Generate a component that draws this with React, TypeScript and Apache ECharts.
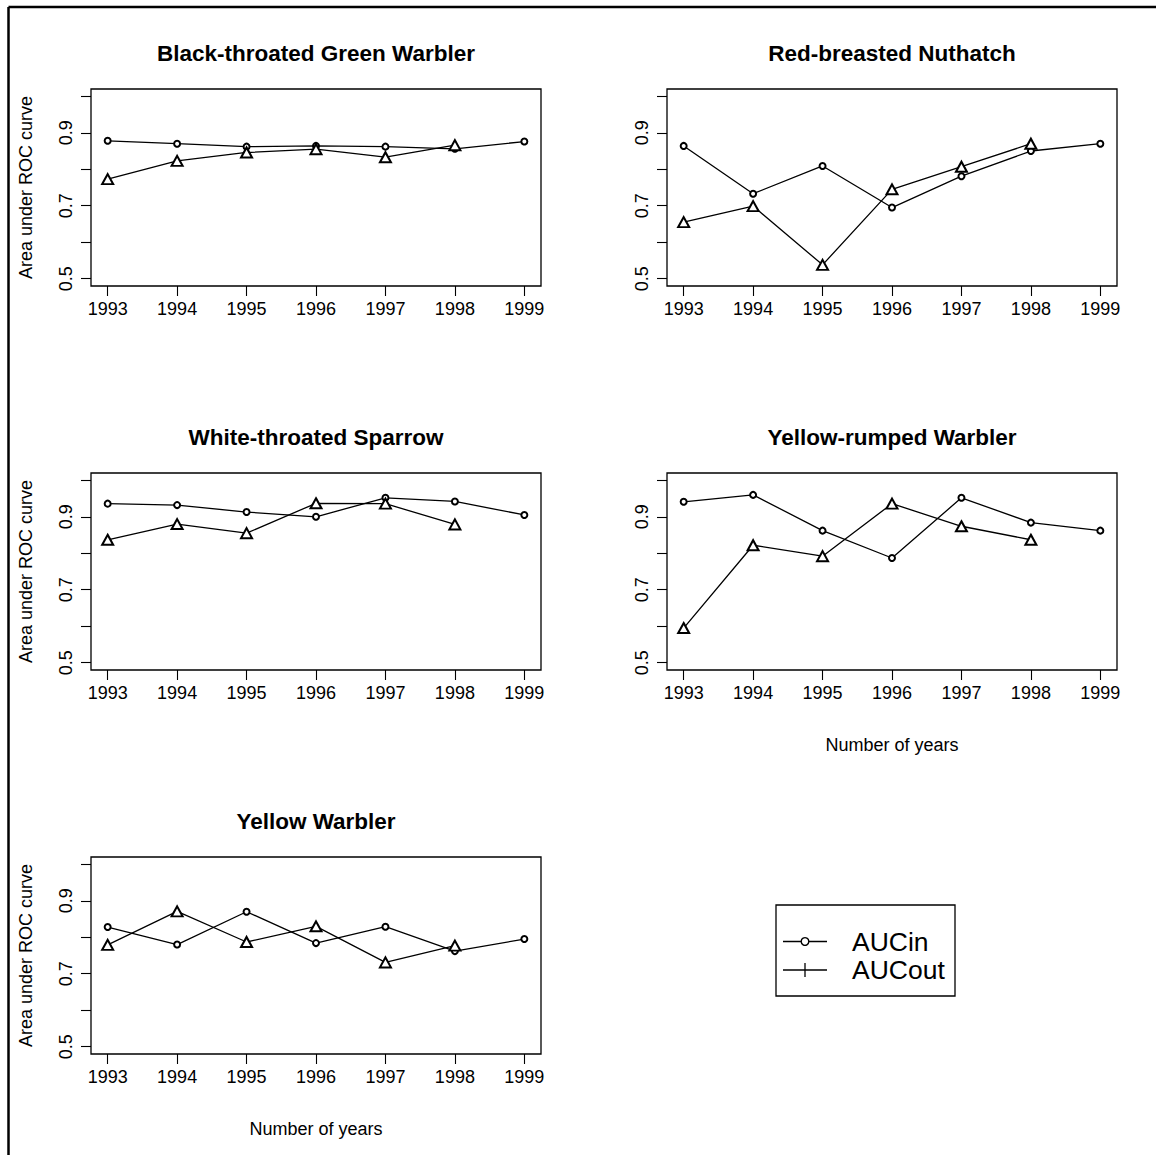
import React, { useEffect, useRef } from "react";
import * as echarts from "echarts";

// ---------- data ----------
const years = [1993, 1994, 1995, 1996, 1997, 1998, 1999];
const yTicks = [0.5, 0.6, 0.7, 0.8, 0.9, 1.0];
const yTickLabels = [0.5, 0.7, 0.9];

const panelTitles = [
  "Black-throated Green Warbler",
  "Red-breasted Nuthatch",
  "White-throated Sparrow",
  "Yellow-rumped Warbler",
  "Yellow Warbler",
];

const aucInBTGW = [0.878, 0.870, 0.862, 0.864, 0.862, 0.856, 0.876];
const aucOutBTGW = [0.773, 0.823, 0.846, 0.855, 0.833, 0.866];

const aucInRBNU = [0.864, 0.733, 0.809, 0.695, 0.781, 0.850, 0.870];
const aucOutRBNU = [0.655, 0.699, 0.538, 0.745, 0.807, 0.870];

const aucInWTSP = [0.936, 0.932, 0.913, 0.900, 0.952, 0.942, 0.905];
const aucOutWTSP = [0.837, 0.880, 0.855, 0.937, 0.936, 0.879];

const aucInYRWA = [0.941, 0.960, 0.862, 0.787, 0.952, 0.884, 0.862];
const aucOutYRWA = [0.595, 0.822, 0.792, 0.936, 0.874, 0.837];

const aucInYWAR = [0.828, 0.780, 0.870, 0.784, 0.829, 0.762, 0.795];
const aucOutYWAR = [0.779, 0.871, 0.787, 0.830, 0.731, 0.777];

const aucInAll = [aucInBTGW, aucInRBNU, aucInWTSP, aucInYRWA, aucInYWAR];
const aucOutAll = [aucOutBTGW, aucOutRBNU, aucOutWTSP, aucOutYRWA, aucOutYWAR];

const legendLabels = ["AUCin", "AUCout"];
const yAxisTitle = "Area under ROC curve";
const xAxisTitle = "Number of years";

// ---------- layout ----------
const FONT = "'Liberation Sans', Arial, Helvetica, sans-serif";
const panelLeft = [91, 667, 91, 667, 91];
const panelTop = [89, 89, 473, 473, 857];
const PW = 450;
const PH = 197;
const showYName = [true, false, true, false, true];
const showXName = [false, false, false, true, true];

export default function App() {
  const ref = useRef<HTMLDivElement>(null);

  useEffect(() => {
    if (!ref.current) return;
    const chart = echarts.init(ref.current, null, { renderer: "svg" });

    const grids: any[] = [];
    const xAxes: any[] = [];
    const yAxes: any[] = [];
    const series: any[] = [];
    const titles: any[] = [];

    for (let i = 0; i < 5; i++) {
      grids.push({
        left: panelLeft[i],
        top: panelTop[i],
        width: PW,
        height: PH,
        show: true,
        borderColor: "#000",
        borderWidth: 1.3,
        backgroundColor: "transparent",
        containLabel: false,
        outerBoundsMode: "none",
      });
      xAxes.push({
        gridIndex: i,
        type: "value",
        min: 1992.76,
        max: 1999.24,
        axisLine: { show: false },
        axisTick: {
          show: true,
          inside: false,
          length: 10,
          customValues: years,
          lineStyle: { color: "#000", width: 1.1 },
        },
        axisLabel: {
          show: true,
          margin: 14,
          color: "#000",
          fontSize: 18,
          fontFamily: FONT,
          customValues: years,
          formatter: (v: number) => String(v),
        },
        splitLine: { show: false },
        name: showXName[i] ? xAxisTitle : "",
        nameLocation: "middle",
        nameGap: 66,
        nameTextStyle: { color: "#000", fontSize: 18, fontFamily: FONT },
      });
      yAxes.push({
        gridIndex: i,
        type: "value",
        min: 0.48,
        max: 1.02,
        axisLine: { show: false },
        axisTick: {
          show: true,
          inside: false,
          length: 10,
          customValues: yTicks,
          lineStyle: { color: "#000", width: 1.1 },
        },
        axisLabel: {
          show: true,
          rotate: 90,
          margin: 16,
          color: "#000",
          fontSize: 18,
          fontFamily: FONT,
          customValues: yTickLabels,
          formatter: (v: number) => v.toFixed(1),
        },
        splitLine: { show: false },
        name: showYName[i] ? yAxisTitle : "",
        nameLocation: "middle",
        nameRotate: 90,
        nameGap: 56,
        nameTextStyle: { color: "#000", fontSize: 18, fontFamily: FONT },
      });
      series.push({
        type: "line",
        name: legendLabels[0],
        xAxisIndex: i,
        yAxisIndex: i,
        data: aucInAll[i].map((v, k) => [years[k], v]),
        symbol: "emptyCircle",
        symbolSize: 6,
        itemStyle: { color: "#000", borderWidth: 1.5 },
        lineStyle: { color: "#000", width: 1.3 },
        silent: true,
        z: 2,
      });
      series.push({
        type: "line",
        name: legendLabels[1],
        xAxisIndex: i,
        yAxisIndex: i,
        data: aucOutAll[i].map((v, k) => [years[k], v]),
        symbol: "emptyTriangle",
        symbolSize: [11, 10],
        itemStyle: { color: "#000", borderWidth: 1.3 },
        lineStyle: { color: "#000", width: 1.3 },
        silent: true,
        z: 3,
      });
      titles.push({
        text: panelTitles[i],
        left: panelLeft[i] + PW / 2,
        top: panelTop[i] - 47,
        textAlign: "center",
        padding: 0,
        textStyle: {
          color: "#000",
          fontSize: 22.5,
          fontWeight: "bold",
          fontFamily: FONT,
        },
      });
    }

    const legX = 776;
    const legY = 905;
    const rowY = [941.5, 970];
    const graphic: any[] = [
      {
        type: "line",
        shape: { x1: 8.5, y1: 7, x2: 1156, y2: 7 },
        style: { stroke: "#000", lineWidth: 2.5 },
      },
      {
        type: "line",
        shape: { x1: 8.5, y1: 7, x2: 8.5, y2: 1155 },
        style: { stroke: "#000", lineWidth: 2.5 },
      },
      {
        type: "rect",
        shape: { x: legX, y: legY, width: 179, height: 91 },
        style: { fill: "#fff", stroke: "#000", lineWidth: 1.3 },
      },
      {
        type: "line",
        shape: { x1: 783, y1: rowY[0], x2: 827, y2: rowY[0] },
        style: { stroke: "#000", lineWidth: 1.3 },
      },
      {
        type: "circle",
        shape: { cx: 805, cy: rowY[0], r: 3.8 },
        style: { fill: "#fff", stroke: "#000", lineWidth: 1.4 },
      },
      {
        type: "text",
        x: 852,
        y: rowY[0],
        style: {
          text: legendLabels[0],
          fill: "#000",
          font: `26.5px ${FONT}`,
          verticalAlign: "middle",
          align: "left",
        },
      },
      {
        type: "line",
        shape: { x1: 783, y1: rowY[1], x2: 827, y2: rowY[1] },
        style: { stroke: "#000", lineWidth: 1.3 },
      },
      {
        type: "line",
        shape: { x1: 805, y1: rowY[1] - 7, x2: 805, y2: rowY[1] + 7 },
        style: { stroke: "#000", lineWidth: 1.3 },
      },
      {
        type: "text",
        x: 852,
        y: rowY[1],
        style: {
          text: legendLabels[1],
          fill: "#000",
          font: `26.5px ${FONT}`,
          verticalAlign: "middle",
          align: "left",
        },
      },
    ];

    chart.setOption({
      animation: false,
      backgroundColor: "#fff",
      title: titles,
      grid: grids,
      xAxis: xAxes,
      yAxis: yAxes,
      series,
      graphic,
    });

    return () => chart.dispose();
  }, []);

  return (
    <div
      ref={ref}
      style={{ position: "fixed", left: 0, top: 0, width: 1156, height: 1155 }}
    />
  );
}
